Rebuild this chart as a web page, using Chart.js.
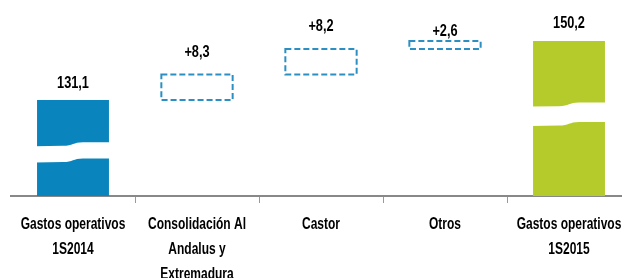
<!DOCTYPE html>
<html>
<head>
<meta charset="utf-8">
<script src="https://cdn.jsdelivr.net/npm/chart.js@4"></script>
<style>
  html, body { margin: 0; padding: 0; background: #fff; overflow: hidden; }
  #wrap { position: relative; width: 648px; height: 278px; }
</style>
</head>
<body>
<div id="wrap"><canvas id="c"></canvas></div>
<script>
// ---- data ----
const categories = [
  ["Gastos operativos", "1S2014"],
  ["Consolidación Al", "Andalus y", "Extremadura"],
  "Castor",
  "Otros",
  ["Gastos operativos", "1S2015"]
];
const startValue = 131.1;
const deltas = [8.3, 8.2, 2.6];
const endValue = 150.2;
const axisBase = 100;          // broken axis: visible base of the bars
const valueLabels = ["131,1", "+8,3", "+8,2", "+2,6", "150,2"];

// ---- build datasets from data ----
const totalsData = categories.map(() => null);
totalsData[0] = [axisBase, startValue];
totalsData[categories.length - 1] = [axisBase, endValue];

const deltaData = categories.map(() => null);
let running = startValue;
deltas.forEach((d, i) => {
  deltaData[i + 1] = [running, running + d];
  running += d;
});

const FONT = "'Liberation Sans', Arial, sans-serif";
const labelGaps = [12, 17, 18, 5, 13];
const breaks = { 0: [0.46, 0.63], 4: [0.41, 0.535] };

function squishText(ctx, txt, x, y, sx) {
  ctx.save();
  ctx.translate(x, y);
  ctx.scale(sx, 1);
  ctx.fillText(txt, 0, 0);
  ctx.restore();
}

const waterfallPlugin = {
  id: 'waterfall',
  afterDatasetsDraw(chart) {
    const ctx = chart.ctx;
    const totalsMeta = chart.getDatasetMeta(0);
    const deltaMeta = chart.getDatasetMeta(1);

    // dashed boxes
    ctx.save();
    ctx.strokeStyle = '#2b8fc4';
    ctx.lineWidth = 2;
    ctx.setLineDash([6, 3]);
    deltaMeta.data.forEach((bar, i) => {
      if (!deltaData[i]) return;
      const top = Math.min(bar.y, bar.base);
      const bot = Math.max(bar.y, bar.base);
      const l = bar.x - bar.width / 2, r = bar.x + bar.width / 2;
      ctx.strokeRect(l, top, r - l, bot - top);
    });
    ctx.restore();

    // wave breaks
    ctx.save();
    ctx.fillStyle = '#ffffff';
    Object.keys(breaks).forEach(k => {
      const bar = totalsMeta.data[k];
      if (!bar) return;
      const top = Math.min(bar.y, bar.base);
      const h = Math.abs(bar.base - bar.y);
      const yT = top + h * breaks[k][0];
      const yB = top + h * breaks[k][1];
      const l = bar.x - bar.width / 2 - 2, r = bar.x + bar.width / 2 + 2;
      const m = bar.x;
      const a = 2;
      ctx.beginPath();
      ctx.moveTo(l, yT + a);
      ctx.lineTo(m - 10, yT + a * 0.8);
      ctx.bezierCurveTo(m, yT + a * 0.8, m, yT - a, m + 10, yT - a);
      ctx.lineTo(r, yT - a);
      ctx.lineTo(r, yB - a);
      ctx.lineTo(m + 10, yB - a);
      ctx.bezierCurveTo(m, yB - a, m, yB + a * 0.8, m - 10, yB + a * 0.8);
      ctx.lineTo(l, yB + a);
      ctx.closePath();
      ctx.fill();
    });
    ctx.restore();

    // value labels
    ctx.save();
    ctx.fillStyle = '#000';
    ctx.font = 'bold 17px ' + FONT;
    ctx.textAlign = 'center';
    ctx.textBaseline = 'alphabetic';
    valueLabels.forEach((txt, i) => {
      const meta = totalsData[i] ? totalsMeta : deltaMeta;
      const bar = meta.data[i];
      const top = Math.min(bar.y, bar.base);
      squishText(ctx, txt, bar.x, top - labelGaps[i], 0.75);
    });
    ctx.restore();

    // category labels (condensed)
    const xs = chart.scales.x;
    ctx.save();
    ctx.fillStyle = '#000';
    ctx.font = 'bold 16px ' + FONT;
    ctx.textAlign = 'center';
    ctx.textBaseline = 'alphabetic';
    categories.forEach((cat, i) => {
      const lines = Array.isArray(cat) ? cat : [cat];
      const x = xs.getPixelForValue(i);
      lines.forEach((ln, j) => {
        squishText(ctx, ln, x, chart.chartArea.bottom + 33 + j * 25, 0.75);
      });
    });
    ctx.restore();
  }
};

new Chart(document.getElementById('c'), {
  type: 'bar',
  data: {
    labels: categories,
    datasets: [
      {
        data: totalsData,
        backgroundColor: ['#0a84bc', null, null, null, '#b5cb2b'],
        borderWidth: 0,
        grouped: false,
        categoryPercentage: 1,
        barPercentage: 0.58
      },
      {
        data: deltaData,
        backgroundColor: 'rgba(0,0,0,0)',
        borderWidth: 0,
        grouped: false,
        categoryPercentage: 1,
        barPercentage: 0.575
      }
    ]
  },
  options: {
    responsive: true,
    maintainAspectRatio: false,
    animation: false,
    layout: { padding: { left: 11, right: 17, top: 0, bottom: 0 } },
    plugins: { legend: { display: false }, tooltip: { enabled: false } },
    scales: {
      y: { display: false, min: axisBase, max: 163.5 },
      x: {
        afterFit(scale) { scale.height = 82; },
        border: { display: true, color: '#888888', width: 2 },
        grid: {
          display: true,
          drawOnChartArea: false,
          drawTicks: true,
          tickLength: 7,
          offset: true,
          color: (c) => c.index === 0 ? 'rgba(0,0,0,0)' : '#999999'
        },
        ticks: { display: true, callback: () => '', autoSkip: false, maxRotation: 0 }
      }
    }
  },
  plugins: [waterfallPlugin]
});
</script>
</body>
</html>
